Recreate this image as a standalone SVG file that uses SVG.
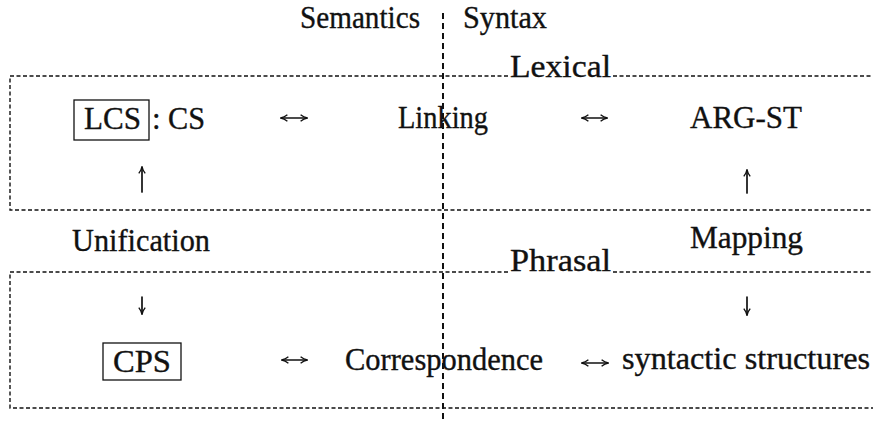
<svg xmlns="http://www.w3.org/2000/svg" width="873" height="423" viewBox="0 0 873 423">
  <style>
    text { font-family: 'Liberation Serif', 'DejaVu Serif', serif; font-size: 31px; fill: #111; stroke: #111; stroke-width: 0.35; }
    .dash { stroke: #111; stroke-width: 1.4; stroke-dasharray: 4 2.5; fill: none; }
    .divider { stroke: #111; stroke-width: 2; stroke-dasharray: 6 4; fill: none; }
    .frame { stroke: #111; stroke-width: 1.3; fill: none; }
    .arrow { stroke: #111; stroke-width: 1.7; fill: none; stroke-linecap: round; stroke-linejoin: round; }
  </style>
  <defs>
    <!-- small open arrowhead in the style of a typeset arrow -->
    <marker id="head" viewBox="0 0 10 10" refX="9" refY="5" markerWidth="8" markerHeight="8" markerUnits="userSpaceOnUse" orient="auto-start-reverse">
      <path d="M1 1 Q5 4.2 9.5 5 Q5 5.8 1 9" fill="none" stroke="#111" stroke-width="1.7"/>
    </marker>
  </defs>
  <rect width="873" height="423" fill="#fff"/>

  <!-- level frames: dashed on top, left and bottom, open to the right -->
  <g id="lexical-level">
    <path class="dash" d="M508 76 H10 V210 H873"/>
    <path class="dash" d="M613 76 H873"/>
    <text x="510" y="77" textLength="101" lengthAdjust="spacingAndGlyphs">Lexical</text>
  </g>
  <g id="phrasal-level">
    <path class="dash" d="M508 272 H10 V408 H873"/>
    <path class="dash" d="M613 272 H873"/>
    <text x="510" y="271" textLength="101" lengthAdjust="spacingAndGlyphs">Phrasal</text>
  </g>

  <!-- semantics / syntax divider -->
  <g id="divider">
    <line class="divider" x1="443" y1="13" x2="443" y2="423"/>
    <text x="300" y="28" textLength="120" lengthAdjust="spacingAndGlyphs">Semantics</text>
    <text x="463" y="28" textLength="84" lengthAdjust="spacingAndGlyphs">Syntax</text>
  </g>

  <g id="lcs">
    <rect class="frame" x="74" y="100" width="75" height="40"/>
    <text x="84" y="129" textLength="57" lengthAdjust="spacingAndGlyphs">LCS</text>
    <text x="152" y="129">:</text>
    <text x="168" y="129" textLength="37" lengthAdjust="spacingAndGlyphs">CS</text>
  </g>
  <g id="linking">
    <text x="398" y="128" textLength="90" lengthAdjust="spacingAndGlyphs">Linking</text>
  </g>
  <g id="arg-st">
    <text x="690" y="128" textLength="112" lengthAdjust="spacingAndGlyphs">ARG-ST</text>
  </g>
  <g id="unification">
    <text x="72" y="251" textLength="138" lengthAdjust="spacingAndGlyphs">Unification</text>
  </g>
  <g id="mapping">
    <text x="690" y="248" textLength="113" lengthAdjust="spacingAndGlyphs">Mapping</text>
  </g>
  <g id="cps">
    <rect class="frame" x="103" y="343" width="78" height="37"/>
    <text x="113" y="372" textLength="58" lengthAdjust="spacingAndGlyphs">CPS</text>
  </g>
  <g id="correspondence">
    <text x="345" y="370" textLength="198" lengthAdjust="spacingAndGlyphs">Correspondence</text>
  </g>
  <g id="syntactic-structures">
    <text x="622" y="369" textLength="248" lengthAdjust="spacingAndGlyphs">syntactic structures</text>
  </g>

  <!-- connectors -->
  <g id="connectors">
    <line class="arrow" x1="281" y1="118" x2="307" y2="118" marker-start="url(#head)" marker-end="url(#head)"/>
    <line class="arrow" x1="582" y1="118" x2="607" y2="118" marker-start="url(#head)" marker-end="url(#head)"/>
    <line class="arrow" x1="282" y1="360" x2="307" y2="360" marker-start="url(#head)" marker-end="url(#head)"/>
    <line class="arrow" x1="582" y1="363" x2="608" y2="363" marker-start="url(#head)" marker-end="url(#head)"/>
    <line class="arrow" x1="142" y1="192" x2="142" y2="167" marker-end="url(#head)"/>
    <line class="arrow" x1="747" y1="193" x2="747" y2="170" marker-end="url(#head)"/>
    <line class="arrow" x1="142" y1="297" x2="142" y2="314" marker-end="url(#head)"/>
    <line class="arrow" x1="747" y1="297" x2="747" y2="315" marker-end="url(#head)"/>
  </g>
</svg>
